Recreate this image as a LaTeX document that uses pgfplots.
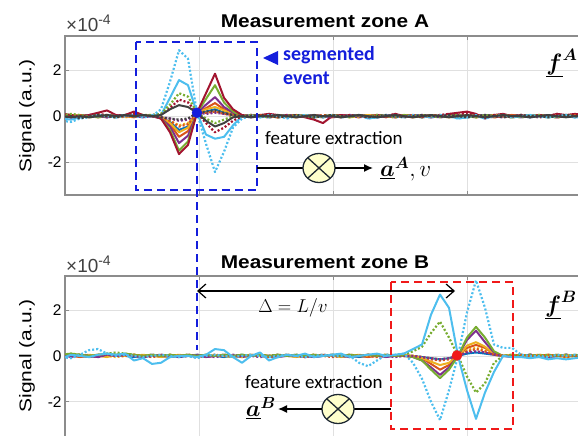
\documentclass[border=0pt]{standalone}
\usepackage{pgfplots}
\pgfplotsset{compat=1.18}
\usepackage{pgfplotstable}
\usepackage[no-math]{fontspec}
\usepackage{bm}
\usepackage{graphicx}
\setmainfont{Liberation Sans}
\newfontfamily\carlito{Carlito}
\usetikzlibrary{arrows.meta}

\definecolor{mb}{RGB}{0,114,189}
\definecolor{mo}{RGB}{217,83,25}
\definecolor{my}{RGB}{237,177,32}
\definecolor{mp}{RGB}{126,47,142}
\definecolor{mg}{RGB}{119,172,48}
\definecolor{mc}{RGB}{77,190,238}
\definecolor{mr}{RGB}{162,20,47}
\definecolor{mk}{RGB}{64,64,64}
\definecolor{bluec}{RGB}{20,30,220}
\definecolor{redc}{RGB}{240,25,25}
\definecolor{cyel}{RGB}{255,255,204}
\definecolor{cdark}{RGB}{30,40,50}

% panel A: x b o y p g c r gd cd rd k kd pd od yd   (signal in 1e-4)
\pgfplotstableread{
x b o y p g c r gd cd rd k kd pd od yd
62 0.05 0.05 0 0.05 0.1 -0.1 0.1 0 -0.2 0.05 0 -0.05 0 0.05 0
71 0 0 0.05 -0.05 0.05 -0.15 0.05 0.1 -0.25 0 -0.05 0 -0.05 0 0.05
80 -0.05 0.05 0 0 0 -0.05 0 0.05 -0.1 -0.05 0 -0.1 0 -0.05 0
89 0 0 -0.05 0.05 0.05 0 0.05 0 -0.05 0.05 -0.05 0 0.05 0 -0.05
98 0.05 -0.05 0 0 -0.05 0.05 0.15 0.05 0 0.1 0 0.05 0 0.05 0
107 0 0 0.05 -0.05 0 0 0.25 0 0.05 0.05 0.05 0 -0.05 0 0.05
116 -0.05 0.05 0 0 0.05 -0.05 0.05 -0.05 0 0 0 -0.05 0 -0.05 0
125 0 0 0 0.05 0 0 0.05 0.05 0.05 0.05 0.05 0.05 0 0 -0.05
134 0.05 -0.05 0.05 0 0.05 0.05 0.2 0 0 0.1 0 0 0.05 0.05 0
143 0 0.05 0 -0.05 0 0 0.05 0.05 -0.05 0 0.05 0.05 0 0 0.05
152 0 0 0.05 0 0.05 0.05 0 0.05 0 0.05 0 0 0 0.05 0
161 -0.05 -0.05 0 -0.1 -0.1 0.05 -0.1 0.1 0.3 0.1 0.05 -0.05 -0.05 -0.05 -0.05
170 -0.25 -0.35 -0.3 -0.45 -0.6 0.8 -0.7 0.5 1.5 0.35 0.3 -0.1 -0.1 -0.2 -0.2
179 -0.6 -0.9 -0.7 -1.17 -1.5 1.57 -1.65 1.0 2.87 0.72 0.48 -0.15 -0.2 -0.45 -0.4
188 -0.45 -0.65 -0.5 -0.85 -1.1 1.35 -1.25 0.85 2.5 0.6 0.4 -0.1 -0.15 -0.35 -0.3
197 0.15 0.15 0.15 0.15 0.15 0.15 0.15 0.15 0.15 0.15 0.15 0.15 0.15 0.15 0.15
206 0.2 0.35 0.3 0.5 0.75 -0.8 1.0 -0.1 -1.2 -0.3 -0.2 0.2 0.1 0.15 0.15
215 0.3 0.57 0.4 0.83 1.35 -0.98 1.85 -0.3 -2.43 -0.7 -0.45 0.25 0.15 0.2 0.2
224 0.15 0.3 0.25 0.4 0.6 -0.9 0.8 -0.15 -1.55 -0.5 -0.3 0.15 0.1 0.1 0.15
233 0.05 0.1 0.1 0.15 0.2 -0.4 0.3 0 -0.5 -0.2 -0.05 0.05 0.05 0.05 0.05
242 0 0 0 0 0 0 0.05 0 -0.1 0 0 0 0 0 0
251 0.05 0 0.05 -0.05 0 0.05 0 0.05 0 0.05 -0.05 0 0.05 0 0
260 0 0.05 0 0 0.05 -0.05 0.05 0 -0.05 0 0 0.05 0 0.05 0
269 -0.05 0 0.05 0.05 0 0 0.1 -0.05 0.05 0.1 0 0 -0.05 0 0.05
278 0 -0.05 0 0 -0.05 0.05 0.05 0.05 0 0 0.05 -0.05 0 -0.05 0
287 0.05 0 0 -0.05 0.05 -0.05 0 0 -0.1 0.05 0 0 0.05 0 0
296 0 0.05 -0.05 0 0 0 0.05 0.05 0 -0.05 -0.05 0.05 0 0.05 -0.05
305 0 0 0.05 0.05 0.05 0.05 -0.05 0 0.05 0 0 0 0 0 0.05
314 -0.05 0.05 0 0 0 -0.05 -0.15 -0.05 0 -0.05 0.05 -0.05 0.05 0 0
323 0 0 0 -0.05 -0.05 0 -0.3 0 -0.05 0 0 0 0 0.05 0
332 0.05 -0.05 0.05 0 0.05 0.05 0 0.05 0.05 0.05 0 0.05 -0.05 0 0.05
341 0 0 0 0.05 0 -0.05 0.05 0 -0.05 0 -0.05 0 0 -0.05 0
350 0 0.05 -0.05 0 0.05 0 0 -0.05 0 0.05 0 0 0.05 0 0
359 0.05 0 0 -0.05 0 0.05 0.05 0.05 0.05 0 0.05 0.05 0 0.05 -0.05
368 0 -0.05 0.05 0 -0.05 -0.1 0 0 -0.1 -0.05 0 -0.05 0 0 0.05
377 -0.05 0 0 0.05 0 -0.05 0.05 0.05 -0.05 0.05 -0.05 0 -0.05 0.05 0
386 0 0.05 0 0 0.05 0.05 -0.05 0 0.05 0 0 0.05 0 0 0
395 0.05 0 -0.05 -0.05 0 0 0.1 -0.05 0 0.1 0.05 0 0.05 -0.05 0.05
404 0 0 0.05 0 0.05 -0.05 0 0.05 -0.05 0 0 -0.05 0 0 0
413 0 0.05 0 0.05 0 0.05 0.05 0 0.05 -0.05 -0.05 0 0 0.05 -0.05
422 -0.05 0 0 0 -0.05 0 -0.05 0.05 0 0.05 0 0.05 0.05 0 0
431 0 -0.05 0.05 -0.05 0 -0.05 0.05 0 -0.05 0 0.05 0 0 0 0.05
440 0.05 0 0 0 0.05 0.05 0 -0.05 0.05 0.05 0 0 -0.05 0.05 0
449 0 0.05 -0.05 0.05 0 0 0.1 0 0 0.1 -0.05 0.05 0 0 0
458 0 0 0 0 -0.05 -0.1 0.15 0.05 -0.1 0.05 0 0 0.05 -0.05 0.05
467 -0.05 0 0.05 0 0 -0.05 0.2 0 -0.05 0.15 0.05 -0.05 0 0 0
476 0 0.05 0 -0.05 0.05 0 0.1 -0.05 0.05 0.05 0 0 0 0.05 -0.05
485 0.05 0 0 0 0 -0.1 -0.1 0.05 -0.1 -0.05 -0.05 0.05 0.05 0 0
494 0 -0.05 0.05 0.05 0.05 0 0.05 0 0 0.05 0 0 0 -0.05 0.05
503 0 0 0 0 0 0.05 0.1 0.05 0.05 0 0.05 -0.05 -0.05 0 0
512 0.05 0.05 -0.05 0 -0.05 -0.05 0 0 -0.05 -0.05 0 0 0 0.05 0
521 0 0 0 -0.05 0 0 0.05 -0.05 0 0.05 0 0.05 0.05 0 0.05
530 -0.05 0 0.05 0 0.05 0.05 -0.05 0 0.05 0 -0.05 0 0 0 0
539 0 0.05 0 0.05 0 0 0.05 0.05 0 0.05 0 0 -0.05 0.05 -0.05
548 0.05 0 0 0 -0.05 -0.05 0 0 -0.05 0 0.05 -0.05 0 0 0
557 0 -0.05 0.05 -0.05 0 0 0.1 -0.05 0 0.1 0 0 0.05 -0.05 0.05
566 0 0 0 0 0.05 0.05 0.05 0.05 0.05 0 -0.05 0.05 0 0 0
575 -0.05 0.05 0 0.05 0 -0.05 0.1 0 -0.05 0.05 0 0 0 0.05 0
584 0 0 0.05 0 0 0 0.05 0 0 0 0 0 0 0 0
}\tA

% panel B: x b o y p g c gd cd pd od yd
\pgfplotstableread{
x b o y p g c gd cd pd od yd
62 0 0.05 0 0.05 0.05 -0.1 0.05 -0.05 0.05 0 0
71 0.05 0 0.05 -0.05 0.1 0.05 0.1 -0.1 0 0.05 0
80 0 -0.05 0 0.05 0.05 0 0.05 0.05 0.05 0 0.05
89 -0.05 0 0.05 0 0 -0.05 0 0.25 0 -0.05 0
98 0 0.05 0 -0.05 0.05 0.05 0.05 0.3 -0.05 0 0.05
107 0.05 0 -0.05 0.05 0.1 0.1 0.1 0.1 0.05 0.05 0
116 0 0 0.05 0 0.05 0.05 0.15 0 0 0 -0.05
125 0 0.05 0 0.05 0.1 0.1 0.1 0.05 0.05 0 0
134 -0.05 0 0 0 0.05 -0.2 0.05 0 0 0.05 0.05
143 0 -0.05 0.05 -0.05 0 -0.1 0 -0.05 -0.05 0 0
152 0.05 0 0 0.05 0.05 -0.35 0.05 0 0 -0.05 0.05
161 0 0.05 -0.05 0 0 -0.3 0 0.05 0.05 0 0
170 0 0 0 -0.05 0.05 -0.05 0.05 0 0 0.05 -0.05
179 -0.05 0 0.05 0 0 0 0 -0.05 -0.05 0 0
188 0 0.05 0 0.05 0.05 0 0.05 0 0 0 0.05
197 0.05 0 0 0 0 -0.05 0 -0.1 0.05 -0.05 0
206 0 -0.05 0.05 -0.05 0.05 0.05 0.05 0 0 0 0
215 0 0 0 0 0 0.3 0 0.05 -0.05 0.05 0.05
224 -0.05 0.05 0 0.05 0.05 0.25 0.05 0 0 0 0
233 0 0 -0.05 0 0 -0.05 0 -0.05 0.05 -0.05 0
242 0.05 0 0 -0.05 0.05 -0.3 0.05 0 0 0 -0.05
251 0 0.05 0.05 0 0 0 0 0.05 0 0.05 0
260 0 0 0 0.05 0.05 0.15 0.05 0 -0.05 0 0.05
269 -0.05 -0.05 0 0 0 -0.2 0 -0.05 0 0 0
278 0 0 0.05 -0.05 0.05 -0.05 0.05 0 0.05 -0.05 0
287 0.05 0.05 0 0 0 0.05 0 0.05 0 0.05 0.05
296 0 0 -0.05 0.05 0.05 0 0.05 0 0 0 0
305 0 -0.05 0 0 0 0.1 0 -0.05 -0.05 0 -0.05
314 -0.05 0 0.05 -0.05 0.05 -0.05 0.05 0 0 0.05 0
323 0 0.05 0 0 0 0 0 0.05 0.05 0 0.05
332 0.05 0 0 0.05 0.05 0.05 0.05 0 0 -0.05 0
341 0 0 -0.05 0 0 0.1 0 0 0 0 0
350 0 0.05 0 -0.05 0.05 -0.05 0.05 0 -0.05 0.05 -0.05
359 -0.05 0 0.05 0 0 0 0 -0.3 0 0 0
368 0 -0.05 0 0.05 0.05 0.05 0.05 -0.45 0.05 0 0.05
377 0.05 0 0 0 0 0.1 0 -0.2 0 -0.05 0
386 0 0.05 0.05 -0.05 0.05 0 0.05 0.05 0 0.05 0
395 0 0 0 0 0 0.05 0 0.05 -0.05 0 0.05
404 0 0 0.05 0 0 0.1 0.05 0.1 0 0 0
413 0 0 0 -0.05 -0.05 0.3 0.2 -0.3 0 0 0
422 -0.05 -0.1 -0.1 -0.2 -0.2 0.5 0.4 -1.0 -0.05 -0.05 -0.05
431 -0.1 -0.35 -0.25 -0.5 -0.6 1.8 1.0 -2.0 -0.1 -0.15 -0.1
440 -0.15 -0.6 -0.4 -0.83 -0.97 2.68 1.5 -2.8 -0.15 -0.2 -0.15
449 -0.1 -0.4 -0.3 -0.5 -0.6 2.1 0.8 -1.5 -0.1 -0.15 -0.1
458 0 0 0 0 0 0 0 0 0 0 0
467 0.1 0.35 0.45 0.7 0.8 -1.5 -0.9 1.9 0.15 0.2 0.25
476 0.15 0.48 0.6 1.1 1.27 -2.75 -1.6 3.3 0.2 0.3 0.35
485 0.1 0.35 0.4 0.6 0.8 -1.6 -1.2 2.1 0.15 0.2 0.25
494 0.05 0.1 0.1 0.15 0.2 -0.7 -0.3 0.5 0.05 0.05 0.05
503 0 0 0 0 0 0 0 0.35 0 0 0
512 0.05 0 0.05 -0.05 0 -0.05 0.05 0.35 0 0 0.05
521 0 0.05 0 0 0.05 -0.05 0 0.05 0 0.05 0
530 0.05 0 0.05 0.05 0 -0.1 0.05 0 0.05 0 0
539 0 -0.05 0 0 0.05 -0.05 0 0 0 0 0.05
548 -0.05 0 0.05 -0.05 0 -0.15 0.05 -0.05 -0.05 0.05 0
557 0 0.05 0 0 0.05 -0.1 0 0.05 0 0 0
566 0.05 0 -0.05 0.05 0 -0.15 0.05 0 0.05 -0.05 0.05
575 0 0 0 0 0.05 -0.1 0 0.05 0 0 0
584 0 0.05 0.05 0 0 -0.05 0.05 0 0 0.05 0
}\tB

\pgfplotsset{
  axstyle/.style={
    scale only axis, width=575bp, xmin=65, xmax=640,
    axis line style={draw=black!45, line width=1.1bp},
    xtick={199,333,467,601}, xticklabels={},
    ytick={-2,0,2},
    grid=major, grid style={draw=black!12, line width=0.8bp},
    tick align=inside, major tick length=4bp,
    tick style={draw=black!45, line width=0.8bp},
    /pgf/number format/assume math mode=true,
    yticklabel style={font=\fontsize{15.5}{15.5}\selectfont},
    clip=true,
  },
  sl/.style={line width=2bp, line join=round, mark=none},
  dt/.style={line width=2.2bp, line join=round, dash pattern=on 2bp off 2bp, mark=none},
}

\begin{document}
\begin{tikzpicture}
\path[use as bounding box] (0,0) rectangle (578bp,436bp);

% ---------- Panel A ----------
\begin{axis}[axstyle, at={(65bp,241bp)}, anchor=south west, height=159bp,
  ymin=-3.43, ymax=3.49]
\addplot[sl, mb] table[x=x,y=b] {\tA};
\addplot[sl, mo] table[x=x,y=o] {\tA};
\addplot[sl, my] table[x=x,y=y] {\tA};
\addplot[sl, mp] table[x=x,y=p] {\tA};
\addplot[sl, mg] table[x=x,y=g] {\tA};
\addplot[sl, mc] table[x=x,y=c] {\tA};
\addplot[sl, mr] table[x=x,y=r] {\tA};
\addplot[dt, my] table[x=x,y=yd] {\tA};
\addplot[dt, mo] table[x=x,y=od] {\tA};
\addplot[dt, mp] table[x=x,y=pd] {\tA};
\addplot[dt, mr] table[x=x,y=rd] {\tA};
\addplot[dt, mg] table[x=x,y=gd] {\tA};
\addplot[dt, mc] table[x=x,y=cd] {\tA};
\addplot[dt, mk] table[x=x,y=kd] {\tA};
\addplot[sl, mk] table[x=x,y=k] {\tA};
\addplot[only marks, mark=*, mark size=5bp, color=bluec] coordinates {(197,0.15)};
\end{axis}

% ---------- Panel B ----------
\begin{axis}[axstyle, at={(65bp,-4.4bp)}, anchor=south west, height=164.4bp,
  ymin=-3.69, ymax=3.49]
\addplot[sl, mb] table[x=x,y=b] {\tB};
\addplot[sl, mo] table[x=x,y=o] {\tB};
\addplot[sl, my] table[x=x,y=y] {\tB};
\addplot[sl, mp] table[x=x,y=p] {\tB};
\addplot[sl, mg] table[x=x,y=g] {\tB};
\addplot[dt, my] table[x=x,y=yd] {\tB};
\addplot[dt, mo] table[x=x,y=od] {\tB};
\addplot[dt, mp] table[x=x,y=pd] {\tB};
\addplot[dt, mg] table[x=x,y=gd] {\tB};
\addplot[dt, mc] table[x=x,y=cd] {\tB};
\addplot[sl, mc] table[x=x,y=c] {\tB};
\addplot[only marks, mark=*, mark size=5bp, color=redc] coordinates {(457,0.02)};
\end{axis}

% ---------- annotations ----------
\begin{scope}[x=1bp,y=1bp]
% titles
\node[anchor=base, inner sep=0] at (325,408) {\scalebox{1.13}[1]{\bfseries\fontsize{18.5}{18.5}\selectfont Measurement zone A}};
\node[anchor=base, inner sep=0] at (325,168) {\scalebox{1.13}[1]{\bfseries\fontsize{18.5}{18.5}\selectfont Measurement zone B}};
% exponent labels
\node[anchor=base west, inner sep=0, text=black!75] at (66,404) {\fontsize{19}{19}\selectfont ×10\raisebox{7bp}{\fontsize{14}{14}\selectfont -4}};
\node[anchor=base west, inner sep=0, text=black!75] at (66,164) {\fontsize{19}{19}\selectfont ×10\raisebox{7bp}{\fontsize{14}{14}\selectfont -4}};
% y labels
\node[rotate=90, inner sep=0] at (27,320) {\scalebox{1.24}[1]{\fontsize{17}{17}\selectfont Signal (a.u.)}};
\node[rotate=90, inner sep=0] at (27,80) {\scalebox{1.24}[1]{\fontsize{17}{17}\selectfont Signal (a.u.)}};

% panel A boxes and labels
\draw[bluec, line width=2.4bp, dash pattern=on 8bp off 5bp] (136,394) rectangle (257,246);
\draw[bluec, line width=2.4bp, dash pattern=on 8bp off 5bp] (197,312) -- (197,86);
\fill[bluec] (263,378) -- (278,385) -- (278,371) -- cycle;
\node[anchor=west, inner sep=0, text=bluec] at (283,381) {\carlito\bfseries\fontsize{20}{20}\selectfont segmented};
\node[anchor=west, inner sep=0, text=bluec] at (283,358) {\carlito\bfseries\fontsize{20}{20}\selectfont event};
\node[inner sep=0] at (562,373) {\scalebox{1.15}{\fontsize{20}{20}\selectfont $\underline{\bm{f}}^{\bm{A}}$}};
\node[anchor=west, inner sep=0] at (265,298) {\carlito\fontsize{19}{19}\selectfont feature extraction};
\draw[line width=1.3bp] (257,268) -- (303,268);
\draw[fill=cyel, draw=cdark, line width=1.3bp] (319,268) ellipse [x radius=16, y radius=14.5];
\draw[cdark, line width=1.3bp] (307.7,257.75) -- (330.3,278.25) (307.7,278.25) -- (330.3,257.75);
\draw[line width=1.3bp, -{Latex[length=9bp,width=8bp]}] (335,268) -- (373,268);
\node[anchor=west, inner sep=0] at (380,267) {\scalebox{1.12}{\fontsize{20}{20}\selectfont $\underline{\bm{a}}^{\bm{A}}, v$}};

% panel B
\draw[line width=1.2bp, {Straight Barb[length=8bp,width=14bp]}-{Straight Barb[length=8bp,width=14bp]}] (197,145) -- (455,145);
\node[inner sep=0] at (293,128) {\scalebox{1.08}{\fontsize{19}{19}\selectfont $\Delta = L/v$}};
\draw[redc, line width=2.4bp, dash pattern=on 8bp off 5bp] (391,154) rectangle (513,7);
\node[inner sep=0] at (561,131) {\scalebox{1.15}{\fontsize{20}{20}\selectfont $\underline{\bm{f}}^{\bm{B}}$}};
\node[anchor=west, inner sep=0] at (245,54) {\carlito\fontsize{19}{19}\selectfont feature extraction};
\draw[line width=1.3bp] (354,27) -- (391,27);
\draw[fill=cyel, draw=cdark, line width=1.3bp] (338,27) ellipse [x radius=16, y radius=14.5];
\draw[cdark, line width=1.3bp] (326.7,16.75) -- (349.3,37.25) (326.7,37.25) -- (349.3,16.75);
\draw[line width=1.3bp, -{Latex[length=9bp,width=8bp]}] (322,27) -- (278,27);
\node[anchor=east, inner sep=0] at (276,28) {\scalebox{1.12}{\fontsize{20}{20}\selectfont $\underline{\bm{a}}^{\bm{B}}$}};
\end{scope}
\end{tikzpicture}
\end{document}
